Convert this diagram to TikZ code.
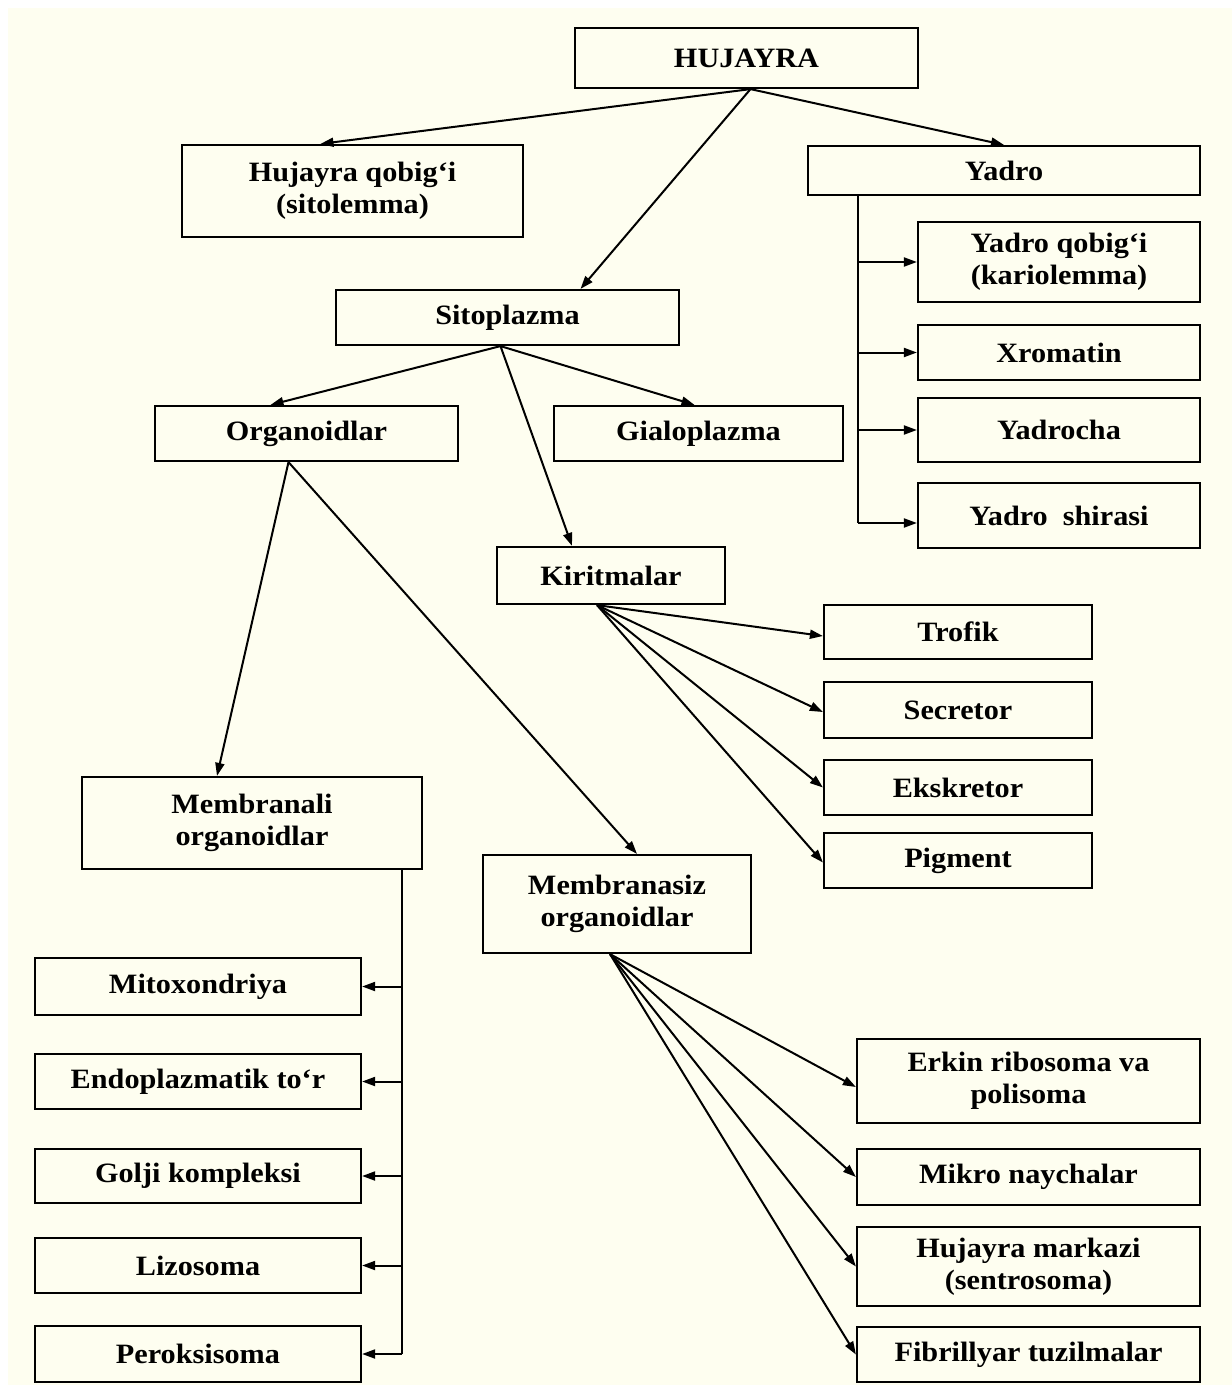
\documentclass[tikz,border=0pt]{standalone}
\usepackage{fontspec}
\setmainfont{Liberation Serif}[FakeStretch=1.08]
\usepackage{xcolor}
\usepackage{tikz}
\usetikzlibrary{arrows.meta}
\definecolor{cream}{HTML}{FEFEF0}
\tikzset{
  box/.style={draw, line width=2.2pt, fill=cream, align=center, inner sep=2pt,
    font=\bfseries\fontsize{28}{32}\selectfont},
}
\begin{document}
\begin{tikzpicture}[x=1pt, y=-1pt, line width=2pt,
  >={Triangle[length=13pt,width=9pt]}]
\useasboundingbox (0,0) rectangle (1232,1385);
\fill[cream] (8,8) rectangle (1232,1385);
\node[box, minimum width=343, minimum height=60] (hujayra) at (746.5, 58) {HUJAYRA};
\node[box, minimum width=341, minimum height=92] (hqobig) at (352.5, 191) {Hujayra qobig‘i\\(sitolemma)};
\node[box, minimum width=392, minimum height=49] (yadro) at (1004, 170.5) {Yadro};
\node[box, minimum width=282, minimum height=80] (yqobig) at (1059, 262) {Yadro qobig‘i\\(kariolemma)};
\node[box, minimum width=282, minimum height=55] (xromatin) at (1059, 352.5) {Xromatin};
\node[box, minimum width=282, minimum height=64] (yadrocha) at (1059, 430) {Yadrocha};
\node[box, minimum width=282, minimum height=65] (yshira) at (1059, 515.5) {Yadro\ \ shirasi};
\node[box, minimum width=343, minimum height=55] (sitopl) at (507.5, 317.5) {Sitoplazma};
\node[box, minimum width=303, minimum height=55] (organ) at (306.5, 433.5) {Organoidlar};
\node[box, minimum width=289, minimum height=55] (gialo) at (698.5, 433.5) {Gialoplazma};
\node[box, minimum width=228, minimum height=57] (kirit) at (611, 575.5) {Kiritmalar};
\node[box, minimum width=268, minimum height=54] (trofik) at (958, 632) {Trofik};
\node[box, minimum width=268, minimum height=56] (secretor) at (958, 710) {Secretor};
\node[box, minimum width=268, minimum height=55] (ekskretor) at (958, 787.5) {Ekskretor};
\node[box, minimum width=268, minimum height=55] (pigment) at (958, 860.5) {Pigment};
\node[box, minimum width=340, minimum height=92] (membr) at (252, 823) {Membranali\\organoidlar};
\node[box, minimum width=268, minimum height=98] (membrsiz) at (617, 904) {Membranasiz\\organoidlar};
\node[box, minimum width=326, minimum height=57] (mitox) at (198, 986.5) {Mitoxondriya};
\node[box, minimum width=326, minimum height=55] (endopl) at (198, 1081.5) {Endoplazmatik to‘r};
\node[box, minimum width=326, minimum height=54] (golji) at (198, 1176) {Golji kompleksi};
\node[box, minimum width=326, minimum height=55] (lizos) at (198, 1265.5) {Lizosoma};
\node[box, minimum width=326, minimum height=56] (perox) at (198, 1354) {Peroksisoma};
\node[box, minimum width=343, minimum height=84] (erkin) at (1028.5, 1081) {Erkin ribosoma va\\polisoma};
\node[box, minimum width=343, minimum height=56] (mikro) at (1028.5, 1177) {Mikro naychalar};
\node[box, minimum width=343, minimum height=79] (hmarkaz) at (1028.5, 1266.5) {Hujayra markazi\\(sentrosoma)};
\node[box, minimum width=343, minimum height=55] (fibril) at (1028.5, 1354.5) {Fibrillyar tuzilmalar};
\coordinate (ytrunk) at (858, 523);
\coordinate (mtrunk) at (402, 1354);
\draw[->] ([xshift=4pt]hujayra.south) -- ([xshift=-32pt]hqobig.north);
\draw[->] ([xshift=4pt]hujayra.south) -- ([xshift=73pt]sitopl.north);
\draw[->] ([xshift=4pt]hujayra.south) -- (yadro.north);
\draw (yadro.south -| ytrunk) -- (ytrunk);
\draw[->] (ytrunk |- yqobig) -- (yqobig.west);
\draw[->] (ytrunk |- xromatin) -- (xromatin.west);
\draw[->] (ytrunk |- yadrocha) -- (yadrocha.west);
\draw[->] (ytrunk) -- (yshira.west |- ytrunk);
\draw[->] ([xshift=-7pt]sitopl.south) -- ([xshift=-36pt]organ.north);
\draw[->] ([xshift=-7pt]sitopl.south) -- ([xshift=-4pt]gialo.north);
\draw[->] ([xshift=-7pt]sitopl.south) -- ([xshift=-39pt]kirit.north);
\draw[->] ([xshift=-18pt]organ.south) -- ([xshift=-35pt]membr.north);
\draw[->] ([xshift=-18pt]organ.south) -- ([xshift=20pt]membrsiz.north);
\draw[->] ([xshift=-14pt]kirit.south) -- ([yshift=-4pt]trofik.west);
\draw[->] ([xshift=-14pt]kirit.south) -- ([yshift=-2pt]secretor.west);
\draw[->] ([xshift=-14pt]kirit.south) -- (ekskretor.west);
\draw[->] ([xshift=-14pt]kirit.south) -- ([yshift=-2pt]pigment.west);
\draw (membr.south -| mtrunk) -- (mtrunk);
\draw[->] (mtrunk |- mitox) -- (mitox.east);
\draw[->] (mtrunk |- endopl) -- (endopl.east);
\draw[->] (mtrunk |- golji) -- (golji.east);
\draw[->] (mtrunk |- lizos) -- (lizos.east);
\draw[->] (mtrunk) -- (perox.east |- mtrunk);
\draw[->] ([xshift=-7pt]membrsiz.south) -- ([yshift=-6pt]erkin.west);
\draw[->] ([xshift=-7pt]membrsiz.south) -- (mikro.west);
\draw[->] ([xshift=-7pt]membrsiz.south) -- (hmarkaz.west);
\draw[->] ([xshift=-7pt]membrsiz.south) -- (fibril.west);
\end{tikzpicture}
\end{document}
